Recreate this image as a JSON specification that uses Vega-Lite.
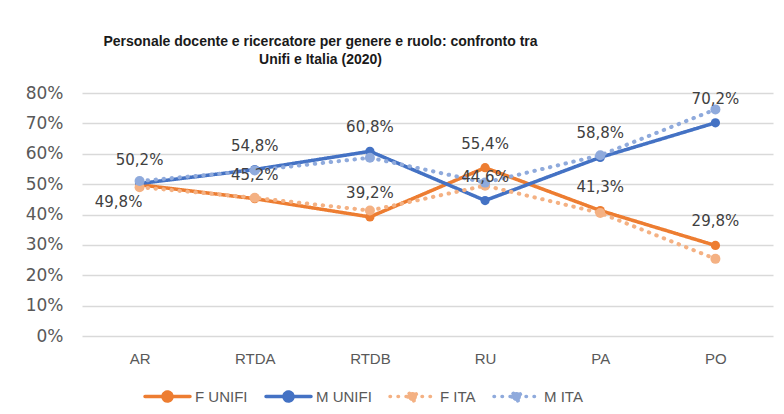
{
  "$schema": "https://vega.github.io/schema/vega-lite/v6.json",
  "autosize": {"type": "none"},
  "width": 691,
  "height": 243,
  "padding": {"left": 82, "top": 93, "right": 11, "bottom": 78},
  "background": "white",
  "title": {
    "text": ["Personale docente e ricercatore per genere e ruolo: confronto tra", "Unifi e Italia (2020)"],
    "font": "Liberation Sans",
    "fontSize": 14,
    "fontWeight": "bold",
    "color": "#1a1a1a",
    "anchor": "middle",
    "frame": "group",
    "dx": -107,
    "offset": 17,
    "lineHeight": 18
  },
  "data": {
    "values": [
      {"ruolo": "AR", "serie": "F UNIFI", "valore": 0.498},
      {"ruolo": "RTDA", "serie": "F UNIFI", "valore": 0.452},
      {"ruolo": "RTDB", "serie": "F UNIFI", "valore": 0.392},
      {"ruolo": "RU", "serie": "F UNIFI", "valore": 0.554},
      {"ruolo": "PA", "serie": "F UNIFI", "valore": 0.413},
      {"ruolo": "PO", "serie": "F UNIFI", "valore": 0.298},
      {"ruolo": "AR", "serie": "M UNIFI", "valore": 0.502},
      {"ruolo": "RTDA", "serie": "M UNIFI", "valore": 0.548},
      {"ruolo": "RTDB", "serie": "M UNIFI", "valore": 0.608},
      {"ruolo": "RU", "serie": "M UNIFI", "valore": 0.446},
      {"ruolo": "PA", "serie": "M UNIFI", "valore": 0.588},
      {"ruolo": "PO", "serie": "M UNIFI", "valore": 0.702},
      {"ruolo": "AR", "serie": "F ITA", "valore": 0.49},
      {"ruolo": "RTDA", "serie": "F ITA", "valore": 0.455},
      {"ruolo": "RTDB", "serie": "F ITA", "valore": 0.413},
      {"ruolo": "RU", "serie": "F ITA", "valore": 0.495},
      {"ruolo": "PA", "serie": "F ITA", "valore": 0.405},
      {"ruolo": "PO", "serie": "F ITA", "valore": 0.254},
      {"ruolo": "AR", "serie": "M ITA", "valore": 0.51},
      {"ruolo": "RTDA", "serie": "M ITA", "valore": 0.545},
      {"ruolo": "RTDB", "serie": "M ITA", "valore": 0.587},
      {"ruolo": "RU", "serie": "M ITA", "valore": 0.505},
      {"ruolo": "PA", "serie": "M ITA", "valore": 0.595},
      {"ruolo": "PO", "serie": "M ITA", "valore": 0.746}
    ]
  },
  "encoding": {
    "x": {
      "field": "ruolo",
      "type": "nominal",
      "sort": ["AR", "RTDA", "RTDB", "RU", "PA", "PO"],
      "scale": {"paddingInner": 0, "paddingOuter": 0.5},
      "axis": {
        "title": null,
        "labelAngle": 0,
        "ticks": false,
        "domain": false,
        "grid": false,
        "labelFont": "Liberation Sans",
        "labelFontSize": 15,
        "labelColor": "#595959",
        "labelPadding": 15
      }
    },
    "y": {
      "field": "valore",
      "type": "quantitative",
      "scale": {"domain": [0, 0.8], "nice": false},
      "axis": {
        "title": null,
        "format": ".0%",
        "values": [0, 0.1, 0.2, 0.3, 0.4, 0.5, 0.6, 0.7, 0.8],
        "ticks": false,
        "domain": false,
        "grid": true,
        "gridColor": "#D9D9D9",
        "gridWidth": 1.3,
        "labelFont": "DejaVu Sans",
        "labelFontSize": 17,
        "labelColor": "#595959",
        "labelPadding": 19
      }
    },
    "color": {
      "field": "serie",
      "type": "nominal",
      "scale": {
        "domain": ["F UNIFI", "M UNIFI", "F ITA", "M ITA"],
        "range": ["#ED7D31", "#4472C4", "#F4B183", "#8FAADC"]
      },
      "legend": {
        "title": null,
        "orient": "none",
        "legendX": 61,
        "legendY": 279,
        "direction": "horizontal",
        "columns": 4,
        "padding": 0,
        "columnPadding": 11,
        "labelOffset": 3,
        "labelFont": "Liberation Sans",
        "labelFontSize": 15,
        "labelColor": "#595959",
        "symbolType": "M-1,0H1M-0.2,0A0.2,0.2 0 1,0 0.2,0A0.2,0.2 0 1,0 -0.2,0Z",
        "symbolSize": 2025,
        "symbolStrokeWidth": 3.5,
        "symbolOpacity": 1,
        "encode": {"symbols": {"update": {"fill": {"scale": "color", "field": "value"}, "strokeCap": {"value": "round"}}}}
      }
    },
    "strokeDash": {
      "field": "serie",
      "type": "nominal",
      "scale": {
        "domain": ["F UNIFI", "M UNIFI", "F ITA", "M ITA"],
        "range": [[1, 0], [1, 0], [0.5, 7.5], [0.5, 7.5]]
      },
      "legend": {
        "title": null,
        "orient": "none",
        "legendX": 61,
        "legendY": 279,
        "direction": "horizontal",
        "columns": 4,
        "padding": 0,
        "columnPadding": 11,
        "labelOffset": 3,
        "labelFont": "Liberation Sans",
        "labelFontSize": 15,
        "labelColor": "#595959",
        "symbolType": "M-1,0H1M-0.2,0A0.2,0.2 0 1,0 0.2,0A0.2,0.2 0 1,0 -0.2,0Z",
        "symbolSize": 2025,
        "symbolStrokeWidth": 3.5,
        "symbolOpacity": 1,
        "encode": {"symbols": {"update": {"fill": {"scale": "color", "field": "value"}, "strokeCap": {"value": "round"}}}}
      }
    }
  },
  "layer": [
    {
      "transform": [{"filter": "indexof(datum.serie, 'UNIFI') >= 0"}],
      "mark": {"type": "line", "strokeWidth": 3.5, "strokeCap": "round", "strokeJoin": "round"}
    },
    {
      "transform": [{"filter": "indexof(datum.serie, 'UNIFI') >= 0"}],
      "mark": {"type": "point", "filled": true, "opacity": 1, "size": 85, "strokeDash": [1, 0]}
    },
    {
      "transform": [{"filter": "indexof(datum.serie, 'UNIFI') < 0"}],
      "mark": {"type": "line", "strokeWidth": 4, "strokeCap": "round", "strokeJoin": "round"}
    },
    {
      "transform": [{"filter": "indexof(datum.serie, 'UNIFI') < 0"}],
      "mark": {"type": "point", "filled": true, "opacity": 1, "size": 100}
    },
    {
      "transform": [{"filter": "indexof(datum.serie, 'UNIFI') >= 0 && !(datum.serie == 'F UNIFI' && datum.ruolo == 'AR')"}],
      "mark": {"type": "text", "font": "DejaVu Sans", "fontSize": 15, "color": "#404040", "dy": -24, "baseline": "middle"},
      "encoding": {
        "text": {"field": "valore", "type": "quantitative", "format": ".1%"},
        "color": {"value": "#404040"},
        "strokeDash": {"value": null}
      }
    },
    {
      "transform": [{"filter": "datum.serie == 'F UNIFI' && datum.ruolo == 'AR'"}],
      "mark": {"type": "text", "font": "DejaVu Sans", "fontSize": 15, "color": "#404040", "dy": 17, "dx": -21, "baseline": "middle"},
      "encoding": {
        "text": {"field": "valore", "type": "quantitative", "format": ".1%"},
        "color": {"value": "#404040"},
        "strokeDash": {"value": null}
      }
    }
  ],
  "config": {
    "locale": {
      "number": {"decimal": ",", "thousands": ".", "grouping": [3], "currency": ["", " €"]}
    },
    "view": {"stroke": null}
  }
}
